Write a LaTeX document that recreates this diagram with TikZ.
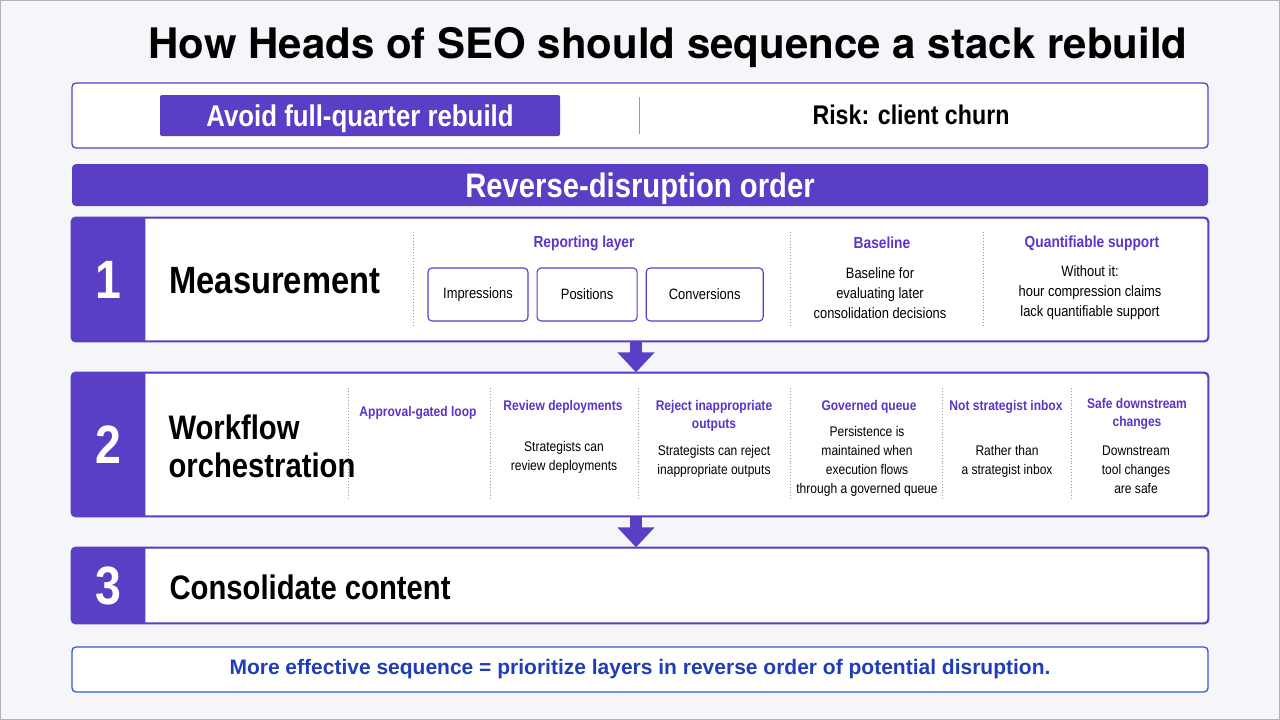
\documentclass[tikz,border=0pt]{standalone}
\usepackage{fontspec}
\setmainfont{Liberation Sans}[FakeStretch=0.86]
\newfontfamily\titlefont{TeX Gyre Heros}
\newfontfamily\widefont{Liberation Sans}
\usetikzlibrary{arrows.meta,positioning}

\definecolor{purp}{HTML}{5A3EC6}
\definecolor{headpurp}{HTML}{5B34C9}
\definecolor{navy}{HTML}{1F3DB8}
\definecolor{bluebox}{HTML}{2C5AD0}
\definecolor{bg}{HTML}{F5F6F9}
\definecolor{sepgray}{HTML}{9A9AA2}
\newcommand{\fsz}[2]{\fontsize{#1}{#2}\selectfont}

\begin{document}
\begin{tikzpicture}[x=1pt,y=-1pt,
    panel/.style={draw=purp, line width=1.3pt, rounded corners=4pt, fill=white,
        minimum width=1136, inner sep=0pt},
    bar/.style={fill=purp, rounded corners=4pt, text=white, text depth=0pt,
        font=\bfseries\fsz{34}{36}},
    numtab/.style={text=white, font=\bfseries\fsz{54}{56}},
    steptitle/.style={anchor=west, align=left, font=\bfseries\fsz{35}{38}},
    colhead/.style={text=headpurp, font=\bfseries\fsz{16}{18}, align=center},
    colheadsm/.style={text=headpurp, font=\bfseries\fsz{14}{18}, align=center},
    coltext/.style={font=\fsz{15}{20}, align=center},
    coltextsm/.style={font=\fsz{14}{19}, align=center},
    metric/.style={draw=purp, line width=1.1pt, rounded corners=4pt, fill=white,
        minimum height=53, inner sep=0pt, font=\fsz{15}{18}},
    sep/.style={draw=sepgray, line width=0.9pt, dotted},
    flow/.style={draw=purp, line width=12pt, -{Triangle[width=36pt,length=20pt]}}
]
    % Background
    \fill[bg] (0,0) rectangle (1280,720);
    \useasboundingbox (0,0) rectangle (1280,720);
    \draw[gray!60, line width=1pt] (0.5,0.5) rectangle (1279.5,719.5);

    % Title
    \node[font=\titlefont\bfseries\fsz{42}{46}] (title) at (668,47)
        {How Heads of SEO should sequence a stack rebuild};

    % Top box
    \node[panel, minimum height=65] (top) at (640,115.5) {};
    \node[bar, rounded corners=2pt, minimum width=400, minimum height=41,
        font=\bfseries\fsz{30}{32}] (avoid) at (360,115.5)
        {Avoid full-quarter rebuild};
    \draw[sepgray, line width=0.8pt] (639,97) -- (639,134);
    \node[font=\bfseries\fsz{27}{29}] (risk) at (911,115) {Risk: client churn};

    % Banner
    \node[bar, minimum width=1136, minimum height=42] (order) at (640,185)
        {Reverse-disruption order};

    % Step panels with number tabs
    \foreach \nm/\yc/\hgt/\num in {s1/279.5/123/1, s2/444.5/143/2, s3/585.5/75/3} {
        \node[panel, minimum height=\hgt] (\nm) at (640,\yc) {};
        \fill[purp] ([xshift=74pt]\nm.north west) [rounded corners=4pt]
            -- (\nm.north west) -- (\nm.south west) [sharp corners]
            -- ([xshift=74pt]\nm.south west) -- cycle;
        \draw[purp, line width=1.3pt, rounded corners=4pt]
            (\nm.north west) rectangle (\nm.south east);
        \node[numtab] (\nm num) at ([xshift=37pt]\nm.west) {\num};
    }

    % Step 1
    \node[steptitle, font=\bfseries\fsz{38}{40}] (meas) at (166,281) {Measurement};
    \foreach \x in {413,790,983}
        \draw[sep] (\x,232) -- (\x,327);
    \node[colhead] (rep) at (584,243) {Reporting layer};
    \node[metric, minimum width=100] (imp) at (478,294.5) {Impressions};
    \node[metric, minimum width=100, right=8pt of imp] (pos) {Positions};
    \node[metric, minimum width=117, right=8pt of pos] (conv) {Conversions};
    \node[colhead] (base) at (882,243) {Baseline};
    \node[coltext] (baset) at (880,293)
        {Baseline for\\evaluating later\\consolidation decisions};
    \node[colhead] (quant) at (1092,243) {Quantifiable support};
    \node[coltext] (quantt) at (1090,293)
        {Without it:\\hour compression claims\\lack quantifiable support};

    % Step 2
    \node[steptitle, font=\bfseries\fsz{34}{38}] (wf) at (165,446) {Workflow\\orchestration};
    \foreach \x in {348,490,638,790,942,1071}
        \draw[sep] (\x,388) -- (\x,500);
    \node[colheadsm] (appr) at (418,413) {Approval-gated loop};
    \node[colheadsm] (rev) at (563,407) {Review deployments};
    \node[coltextsm] (revt) at (564,457) {Strategists can\\review deployments};
    \node[colheadsm] (rej) at (714,416) {Reject inappropriate\\outputs};
    \node[coltextsm] (rejt) at (714,461) {Strategists can reject\\inappropriate outputs};
    \node[colheadsm] (gov) at (869,407) {Governed queue};
    \node[coltextsm] (govt) at (867,461.5)
        {Persistence is\\maintained when\\execution flows\\through a governed queue};
    \node[colheadsm] (nsi) at (1006,407) {Not strategist inbox};
    \node[coltextsm] (nsit) at (1007,461) {Rather than\\a strategist inbox};
    \node[colheadsm] (safe) at (1137,414) {Safe downstream\\changes};
    \node[coltextsm] (safet) at (1136,470) {Downstream\\tool changes\\are safe};

    % Step 3
    \node[steptitle, font=\bfseries\fsz{34}{38}] (cons) at (166,587) {Consolidate content};

    % Flow arrows
    \draw[flow] ([xshift=-4pt]s1.south) -- ([xshift=-4pt]s2.north);
    \draw[flow] ([xshift=-4pt]s2.south) -- ([xshift=-4pt]s3.north);

    % Summary
    \node[draw=bluebox, line width=1.3pt, rounded corners=4pt, fill=white,
        minimum width=1136, minimum height=45, text=navy,
        font=\widefont\bfseries\fsz{21}{24}] (summary) at (640,669.5)
        {More effective sequence = prioritize layers in reverse order of potential disruption.};
\end{tikzpicture}
\end{document}
